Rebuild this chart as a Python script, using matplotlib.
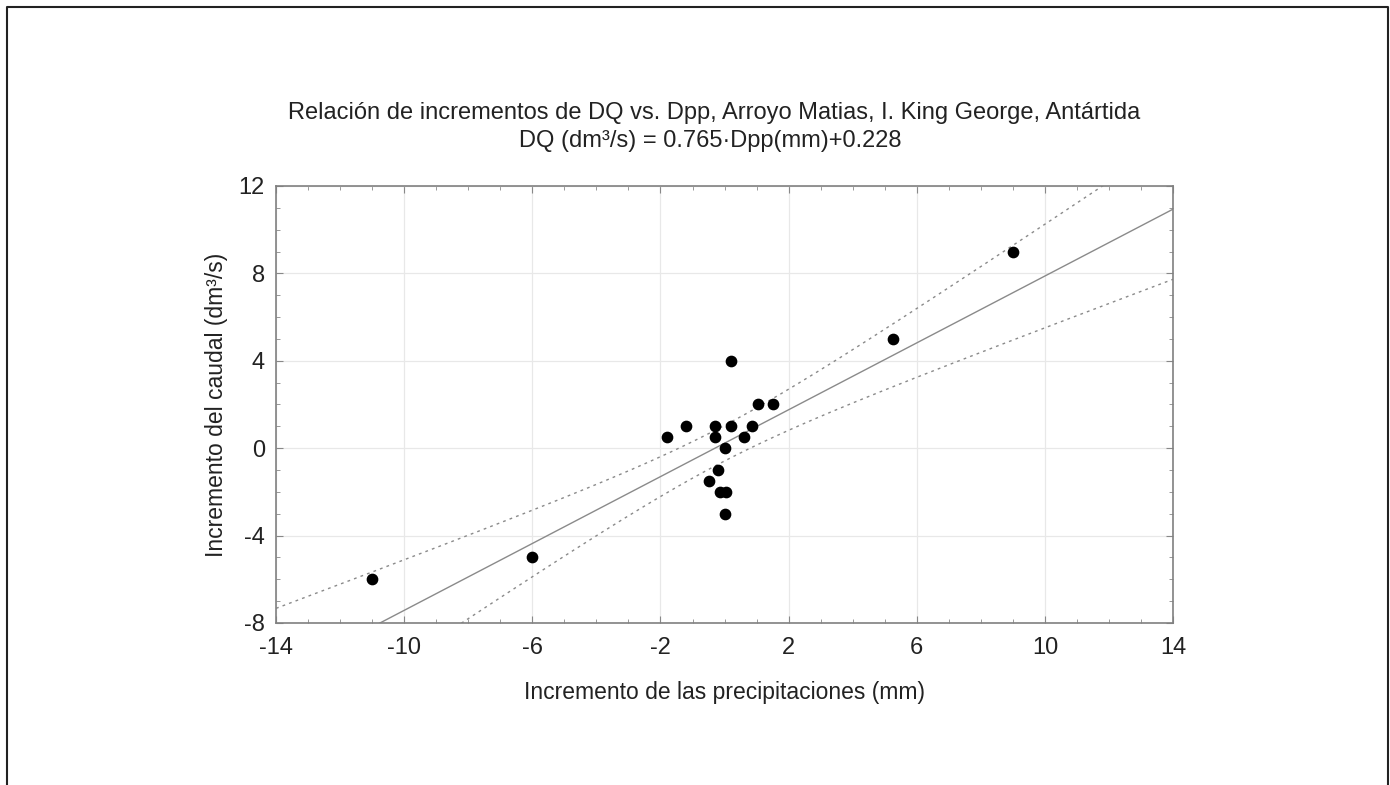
import numpy as np
import matplotlib
matplotlib.use("Agg")
import matplotlib.pyplot as plt
from matplotlib.lines import Line2D
from matplotlib.ticker import MultipleLocator

plt.rcParams['font.family'] = ['Liberation Sans', 'DejaVu Sans']
plt.rcParams['axes.unicode_minus'] = False

# data
dpp = [-11, -6, -1.8, -1.2, -0.3, -0.3, 0.2, 0.2, 0.0, -0.2,
       -0.5, -0.15, 0.05, 0.0, 0.6, 0.85, 1.05, 1.5, 5.25, 9.0]
dq = [-6, -5, 0.5, 1, 1, 0.5, 4, 1, 0, -1,
      -1.5, -2, -2, -3, 0.5, 1, 2, 2, 5, 9]
slope = 0.765
intercept = 0.228
t_crit = 2.101  # 95%, 18 df

x_ticks = [-14, -10, -6, -2, 2, 6, 10, 14]
y_ticks = [-8, -4, 0, 4, 8, 12]

x = np.array(dpp)
y = np.array(dq)
n = len(x)
resid = y - (slope * x + intercept)
s = np.sqrt(np.sum(resid ** 2) / (n - 2))
sxx = np.sum((x - x.mean()) ** 2)

xs = np.linspace(-14, 14, 200)
fit = slope * xs + intercept
hw = t_crit * s * np.sqrt(1.0 / n + (xs - x.mean()) ** 2 / sxx)

fig = plt.figure(figsize=(13.9, 7.85), dpi=100)
ax = fig.add_axes([0.1986, 0.2064, 0.6453, 0.5567])

ax.grid(True, color='#e8e8e8', lw=0.9)
ax.set_axisbelow(True)
ax.plot(xs, fit, color='#8a8a8a', lw=1.0)
ax.plot(xs, fit + hw, color='#8a8a8a', lw=1.0, ls=(0, (2, 3)))
ax.plot(xs, fit - hw, color='#8a8a8a', lw=1.0, ls=(0, (2, 3)))
ax.scatter(x, y, s=55, color='black', zorder=5)

ax.set_xlim(-14, 14)
ax.set_ylim(-8, 12)
ax.set_xticks(x_ticks)
ax.set_yticks(y_ticks)
ax.xaxis.set_minor_locator(MultipleLocator(1))
ax.yaxis.set_minor_locator(MultipleLocator(1))
ax.tick_params(which='both', direction='in', top=True, right=True, color='#888888')
ax.tick_params(which='major', length=5, labelsize=17, labelcolor='#222222')
ax.tick_params(axis='x', which='major', pad=10)
ax.tick_params(axis='y', which='major', pad=8)
ax.tick_params(which='minor', length=3)
for sp in ax.spines.values():
    sp.set_color('#808080')
    sp.set_linewidth(1.2)

ax.set_xlabel('Incremento de las precipitaciones (mm)', fontsize=16.5, color='#222222', labelpad=16)
ax.set_ylabel('Incremento del caudal (dm³/s)', fontsize=16.5, color='#222222', labelpad=8)

fig.text(0.514, 0.856, 'Relación de incrementos de DQ vs. Dpp, Arroyo Matias, I. King George, Antártida',
         ha='center', va='center', fontsize=17, color='#222222')
fig.text(0.511, 0.821, 'DQ (dm³/s) = 0.765·Dpp(mm)+0.228',
         ha='center', va='center', fontsize=17, color='#222222')

# page frame (left, top, right)
fig.add_artist(Line2D([0.005, 0.005, 0.9985, 0.9985], [0.0, 0.991, 0.991, 0.0],
                      transform=fig.transFigure, color='#222222', lw=1.5))

fig.savefig('out.png', dpi=100)
